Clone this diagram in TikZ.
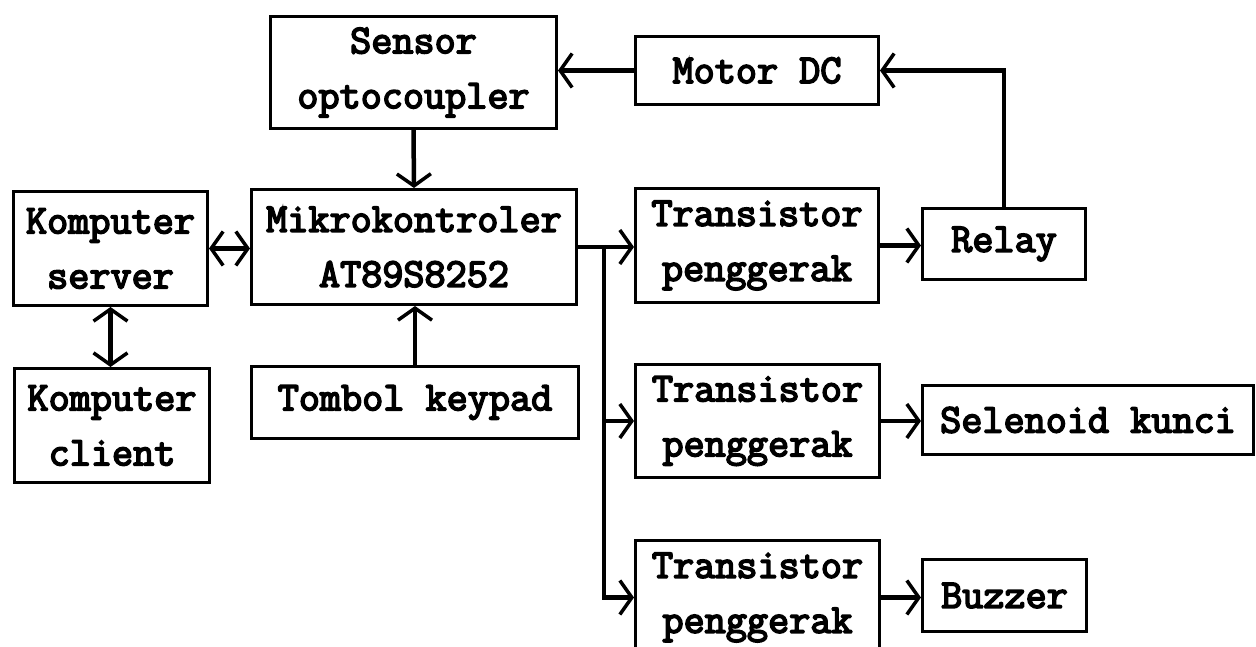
\documentclass[tikz,border=0pt]{standalone}
\usepackage{fontspec}
\newfontfamily\boxfont{Latin Modern Mono}[FakeBold=4]
\usetikzlibrary{arrows.meta}
\begin{document}
\begin{tikzpicture}[x=1pt,y=-1pt,
  block/.style={draw,line width=3pt,anchor=north west,inner sep=0pt,
    align=center,font=\boxfont\fontsize{41}{55}\selectfont},
  link/.style={line width=4.5pt,-{Straight Barb[length=12pt,width=34pt,line width=3.5pt]}},
  dlink/.style={line width=4.5pt,{Straight Barb[length=12pt,width=34pt,line width=3.5pt]}-{Straight Barb[length=12pt,width=34pt,line width=3.5pt]}}]
\useasboundingbox (0,0) rectangle (1256,647);
\clip (0,0) rectangle (1256,647);
\fill[white] (0,0) rectangle (1256,647);

% blocks, placed by their top-left corners
\node[block,minimum width=286pt,minimum height=112pt] (sensor) at (269,15) {Sensor\\optocoupler};
\node[block,minimum width=243pt,minimum height=68pt] (motor) at (634,35) {Motor DC};
\node[block,minimum width=194pt,minimum height=114pt] (server) at (12,190) {Komputer\\server};
\node[block,minimum width=325pt,minimum height=115pt] (mikro) at (250,188) {Mikrokontroler\\AT89S8252};
\node[block,minimum width=243pt,minimum height=114pt] (tr1) at (634,187) {Transistor\\penggerak};
\node[block,minimum width=163pt,minimum height=71pt] (relay) at (921,207) {Relay};
\node[block,minimum width=195pt,minimum height=114pt] (client) at (13,367) {Komputer\\client};
\node[block,minimum width=327pt,minimum height=72pt] (keypad) at (250,365) {Tombol keypad};
\node[block,minimum width=244pt,minimum height=113pt] (tr2) at (634,363) {Transistor\\penggerak};
\node[block,minimum width=331pt,minimum height=69pt] (selenoid) at (921,384) {Selenoid kunci};
\node[block,minimum width=244pt,minimum height=114pt] (tr3) at (634,539) {Transistor\\penggerak};
\node[block,minimum width=164pt,minimum height=72pt] (buzzer) at (921,558) {Buzzer};

% connectors
\draw[link] (motor.west) -- (motor.west -| sensor.east);
\draw[link] (relay.north) |- (motor.east);
\draw[link] (sensor.south) -- (mikro.north);
\draw[dlink] (server.east) -- (server.east -| mikro.west);
\draw[dlink] (server.south) -- (server.south |- client.north);
\draw[link] (keypad.north) -- (keypad.north |- mikro.south);
\draw[link] (mikro.east) -- (mikro.east -| tr1.west);
\coordinate (busTop) at (604,245);
\draw[link] (busTop) |- (tr3.west);
\draw[link] (busTop |- tr2.west) -- (tr2.west);
\draw[link] (tr1.east) -- (tr1.east -| relay.west);
\draw[link] (tr2.east) -- (tr2.east -| selenoid.west);
\draw[link] (tr3.east) -- (tr3.east -| buzzer.west);
\end{tikzpicture}
\end{document}
